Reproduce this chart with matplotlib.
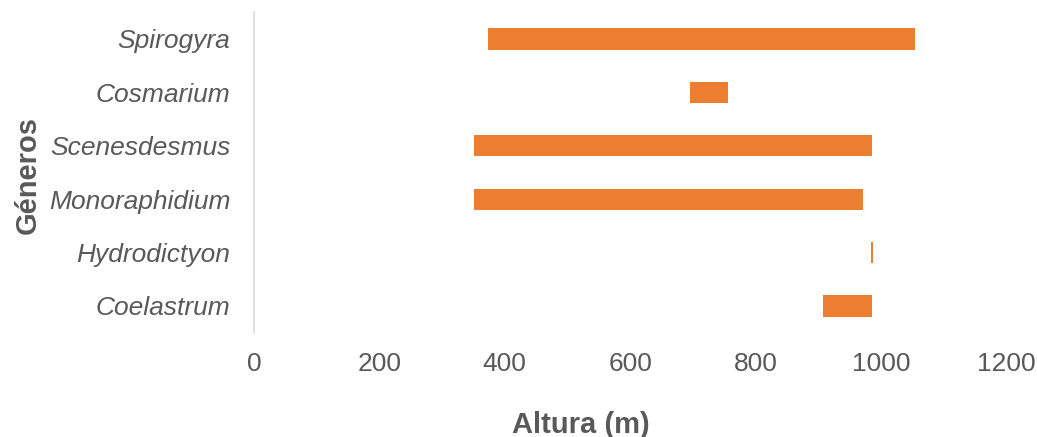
import matplotlib.pyplot as plt

# Rango altitudinal de cada género (m)
generos = ["Coelastrum", "Hydrodictyon", "Monoraphidium", "Scenesdesmus", "Cosmarium", "Spirogyra"]
altura_min = [908, 985, 351, 351, 696, 374]
altura_max = [986, 988, 972, 986, 757, 1055]

plt.rcParams['font.family'] = ['Liberation Sans', 'DejaVu Sans']
gris = '#595959'

fig = plt.figure(figsize=(10.37, 4.37), dpi=100)
ax = fig.add_axes([0.245, 0.2387, 0.7252, 0.7332])

rango = [mx - mn for mn, mx in zip(altura_min, altura_max)]
ax.barh(range(len(generos)), rango, left=altura_min, height=0.4, color='#ED7D31')

ax.set_xlim(0, 1200)
ax.set_ylim(-0.5, len(generos) - 0.5)
ax.set_xticks(range(0, 1201, 200))
ax.set_yticks(range(len(generos)))
ax.set_yticklabels(generos, fontstyle='italic')

for s in ['top', 'right', 'bottom']:
    ax.spines[s].set_visible(False)
ax.spines['left'].set_color('#D9D9D9')
ax.spines['left'].set_linewidth(1.2)

ax.tick_params(axis='both', length=0, labelsize=19, labelcolor=gris)
ax.tick_params(axis='x', pad=14)
ax.tick_params(axis='y', pad=17)

ax.set_xlabel('Altura (m)', fontsize=21, fontweight='bold', color=gris, va='center')
ax.xaxis.set_label_coords(0.435, -0.288)
ax.set_ylabel('Géneros', fontsize=21, fontweight='bold', color=gris, va='center')
ax.yaxis.set_label_coords(-0.3005, 0.492)

plt.savefig('out.png', dpi=100)
